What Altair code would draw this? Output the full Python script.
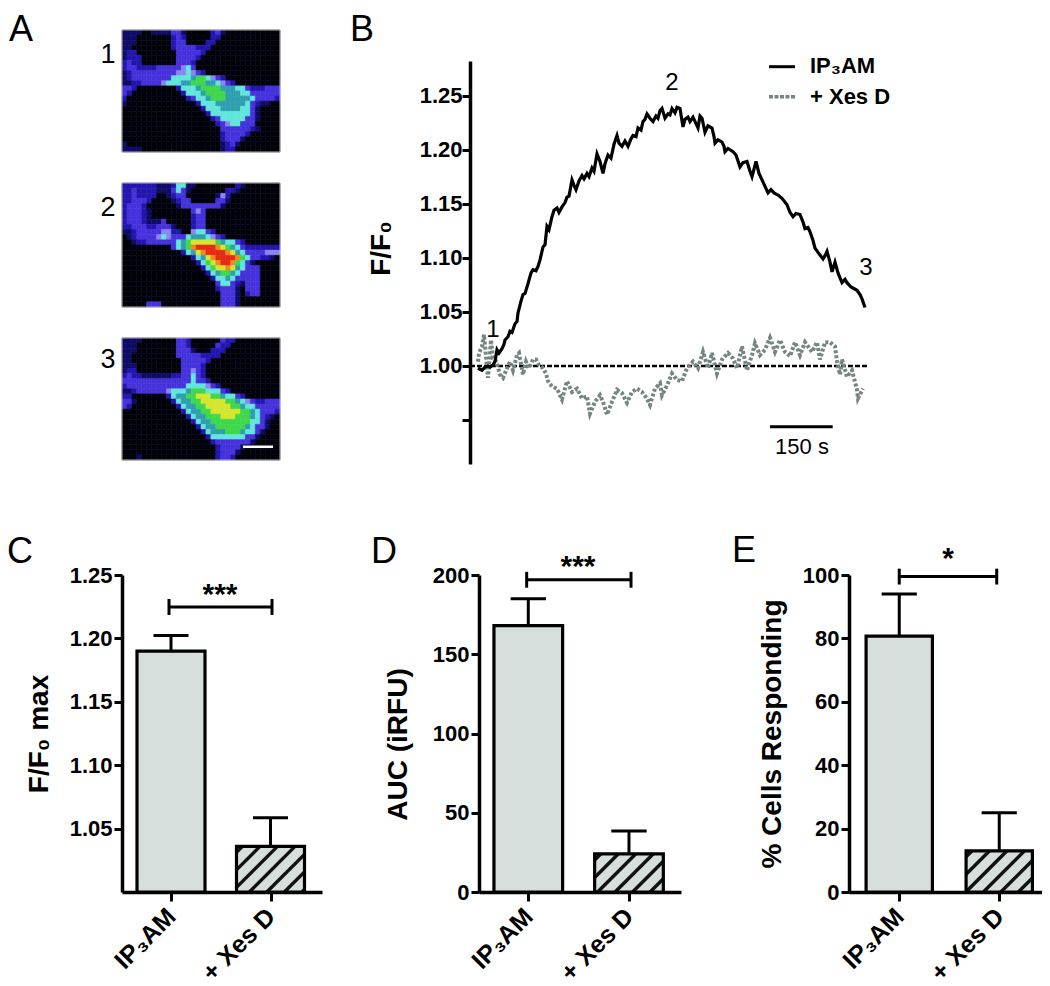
import altair as alt
import pandas as pd

FONT = "Liberation Sans"

IMG1 = [
"11110011113310000023100000000000",
"11100000002320000022000000000000",
"11100000002330000220000000000000",
"11000000002333322200000000000000",
"12200000000333332000000000000000",
"12220000000333320000000000000000",
"23220000000333200000000000000000",
"23322223333345300000000000000000",
"12333333333445432000000000000000",
"12333333335555677543200000000000",
"11223333455566777665432000000000",
"33200000000255567777666553222333",
"32000000000025556777766655333333",
"20000000000002355677766666533332",
"10000000000000025556666665321100",
"00000000000000002555666655310000",
"00000000000000000255555555310000",
"00000000000000000023555553310000",
"00000000000000000002345533300000",
"00000000000000000000333333210000",
"00000000000000000000233332000000",
"00000000000000000000233310000000",
"10000000000000000000123100000000",
"11110000000000000000122000000000",
]
IMG2 = [
"22222221112551100000000210000000",
"22322221113531000000022100000000",
"22322220012330000001420000000000",
"22333200001233000003310000000000",
"23332000000133333333100000000000",
"23332100000000343000000000000000",
"23332100000000233000000000000000",
"23332111300000233000000000000000",
"22333223331000233000000000000000",
"11233333442200455320000000000000",
"01233334543335666543200000000000",
"00122333333567888887655320000000",
"000000000035679aaaa9876532222222",
"00000000000025689aaaa98653333444",
"0000000000000025689aaaa975332210",
"00000000000000025789aa9753100000",
"00000000000000002578898653330000",
"00000000000000000256776533330000",
"00000000000000000025565333330000",
"00000000000000000003553213330000",
"00000000000000000002333103330000",
"00000000000000000000333102330000",
"00000000000000000000333100000000",
"00000333000000000000333100000000",
]
IMG3 = [
"11110000000332000000322000000000",
"11100000000332000003220000000000",
"11100000000333100022200000000000",
"11000000000333332222000000000000",
"11000000000033333200000000000000",
"11100000000033332000000000000000",
"12200000000033432000000000000000",
"23221111112233532000000000000000",
"33333333333333533200000000000000",
"23333333333335555432000000000000",
"11233333345556777555320000000000",
"22000000025667788877655320000000",
"33100000002566778888877654322333",
"32000000000256677888887765533333",
"00000000000025667788888877653332",
"00000000000002566777888777653210",
"00000000000000256677777777553100",
"00000000000000025667777776533100",
"00000000000000002566677765531000",
"00000000000000000255555553310000",
"00000000000000000023333333100000",
"00000000000000000002333310000000",
"00000000000000000002333100000000",
"00010000000000000002332000000000",
]
LEVELS = list("0123456789a")
LEVEL_COLORS = ["#00000c", "#0e0c66", "#2316b0", "#4632dc", "#8a86f0", "#62e6dc",
                "#2f9fb0", "#3fd84c", "#d4e62e", "#f08a1e", "#e62a14"]

# ---------- Panel B: traces, F/F0 against acquisition sample (1 sample = 150/62.7 s)
BLACK_SAMPLE = [0, 2, 4, 7, 10, 12, 15, 17, 19, 21, 24, 26, 27, 30, 32, 34, 37, 39, 40, 43, 45, 47, 50,
                53, 55, 58, 60, 62, 65, 67, 69, 71, 74, 76, 79, 81, 84, 87, 89, 91, 94, 96, 98, 101, 104,
                106, 109, 111, 114, 116, 119, 122, 125, 127, 130, 133, 136, 139, 141, 144, 147, 150, 153,
                155, 158, 160, 163, 165, 167, 169, 172, 175, 178, 180, 182, 184, 187, 190, 192, 194, 197,
                199, 202, 205, 207, 210, 212, 215, 218, 220, 222, 224, 227, 230, 234, 236, 237, 240, 244,
                246, 247, 250, 255, 258, 262, 265, 269, 272, 274, 276, 278, 281, 284, 287, 290, 293, 296,
                300, 304, 309, 312, 315, 318, 322, 325, 327, 330, 332, 335, 337, 340, 345, 347, 349, 352,
                354, 357, 360, 364, 367, 369, 373, 379, 382, 384, 387]
BLACK_F = [0.998, 0.997, 0.996, 0.999, 1.000, 0.999, 1.001, 1.004, 1.015, 1.012, 1.016, 1.020, 1.024,
           1.027, 1.032, 1.031, 1.039, 1.041, 1.049, 1.060, 1.066, 1.067, 1.076, 1.086, 1.089, 1.088,
           1.092, 1.098, 1.110, 1.112, 1.129, 1.126, 1.138, 1.144, 1.146, 1.142, 1.147, 1.151, 1.156,
           1.157, 1.172, 1.167, 1.163, 1.171, 1.176, 1.173, 1.178, 1.175, 1.183, 1.180, 1.196, 1.189,
           1.178, 1.187, 1.195, 1.192, 1.205, 1.213, 1.206, 1.203, 1.208, 1.203, 1.210, 1.213, 1.212,
           1.220, 1.218, 1.226, 1.228, 1.233, 1.229, 1.226, 1.231, 1.229, 1.236, 1.238, 1.229, 1.233,
           1.232, 1.238, 1.234, 1.239, 1.238, 1.221, 1.228, 1.230, 1.226, 1.230, 1.224, 1.220, 1.231,
           1.229, 1.216, 1.222, 1.220, 1.212, 1.206, 1.209, 1.207, 1.203, 1.198, 1.201, 1.198, 1.195,
           1.184, 1.188, 1.189, 1.180, 1.175, 1.182, 1.189, 1.178, 1.172, 1.166, 1.160, 1.163, 1.160,
           1.158, 1.155, 1.149, 1.142, 1.138, 1.141, 1.140, 1.133, 1.127, 1.128, 1.124, 1.116, 1.109,
           1.105, 1.099, 1.102, 1.106, 1.096, 1.087, 1.096, 1.086, 1.077, 1.080, 1.077, 1.073, 1.070,
           1.066, 1.062, 1.054]
GRAY_SAMPLE = [0, 1, 4, 6, 8, 10, 13, 15, 17, 19, 22, 25, 29, 32, 35, 39, 41, 45, 48, 51, 55, 58, 61, 65,
               68, 70, 74, 79, 84, 89, 94, 99, 104, 109, 112, 117, 122, 125, 129, 134, 139, 144, 149,
               154, 159, 164, 169, 172, 177, 182, 184, 189, 194, 199, 204, 209, 215, 220, 225, 230, 234,
               239, 244, 250, 255, 259, 264, 269, 274, 277, 282, 287, 292, 297, 302, 307, 312, 317, 322,
               327, 334, 339, 342, 347, 352, 357, 359, 362, 364, 369, 374, 379, 380, 385]
GRAY_F = [1.004, 1.012, 1.018, 1.029, 1.009, 0.989, 1.024, 1.007, 1.006, 1.002, 0.992, 0.989, 0.998,
          1.004, 0.996, 1.010, 1.012, 0.992, 1.004, 0.998, 1.006, 1.006, 1.001, 0.998, 0.993, 0.986,
          0.981, 0.979, 0.969, 0.986, 0.976, 0.979, 0.970, 0.972, 0.956, 0.967, 0.973, 0.967, 0.955,
          0.967, 0.978, 0.975, 0.966, 0.976, 0.979, 0.976, 0.970, 0.964, 0.979, 0.984, 0.973, 0.982,
          0.993, 0.987, 0.986, 0.998, 1.004, 0.998, 1.013, 0.998, 1.012, 0.993, 1.006, 1.012, 1.007,
          0.998, 1.018, 0.996, 1.010, 1.021, 1.010, 1.015, 1.026, 1.013, 1.024, 1.013, 1.009, 1.022,
          1.010, 1.022, 1.013, 1.022, 1.006, 1.022, 1.022, 1.018, 1.004, 0.992, 1.006, 0.990, 0.996,
          0.978, 0.970, 0.979]
BASELINE_SAMPLE = [-8, 389]
BASELINE_F = 1.0
B_TICKS = [0.95, 1.00, 1.05, 1.10, 1.15, 1.20, 1.25]

# ---------- Panels C, D, E
CATEGORIES = ["IP\u2083AM", "+ Xes D"]
PANELS = [
    dict(title="F/F\u2080 max", y_dom=[1.0, 1.25], y_ticks=[1.05, 1.10, 1.15, 1.20, 1.25], y_fmt=".2f",
         x_rng=[114, 314], axis_x=114, pos=[0.49, 1.485], half=0.34,
         vals=[1.19, 1.036], tops=[1.2022, 1.0586],
         bracket=[0.47, 1.50], bracket_y=1.2248, cap=0.0063, stars="***", star_x=0.98, star_dy=-3,
         title_pad=16, title_y=None),
    dict(title="AUC (iRFU)", y_dom=[0, 200], y_ticks=[0, 50, 100, 150, 200], y_fmt="d",
         x_rng=[471, 673], axis_x=471, pos=[0.488, 1.485], half=0.34,
         vals=[168, 24], tops=[185, 38.5],
         bracket=[0.472, 1.505], bracket_y=197, cap=5, stars="***", star_x=0.98, star_dy=-4,
         title_pad=20, title_y=736),
    dict(title="% Cells Responding", y_dom=[0, 100], y_ticks=[0, 20, 40, 60, 80, 100], y_fmt="d",
         x_rng=[841, 1042], axis_x=841, pos=[0.50, 1.495], half=0.33,
         vals=[80.7, 13], tops=[94, 25],
         bracket=[0.50, 1.47], bracket_y=99.5, cap=2.5, stars="*", star_x=0.985, star_dy=-9,
         title_pad=16, title_y=None),
]
BAR_FILL = "#d6dfdc"
PLOT_Y = [884, 567]

# ---------- Free text, page positions
LETTERS = [("A", 21, 30), ("B", 362, 30), ("C", 20, 552), ("D", 384, 552), ("E", 744, 551)]
NUMBERS_A = [("1", 108, 55), ("2", 108, 208), ("3", 108, 360)]
NUMBERS_B = [("1", 493, 330), ("2", 672, 83), ("3", 866, 268)]
LEGEND = [("IP\u2083AM", 810, 66), ("+ Xes D", 810, 97)]
SCALE_LABEL = [("150 s", 802, 447)]

W, H = 1034, 978


def qx(dom, rng, axis=None, field="x"):
    return alt.X(f"{field}:Q", scale=alt.Scale(domain=dom, range=rng, nice=False, zero=False), axis=axis)


def qy(dom, rng, axis=None, field="y"):
    return alt.Y(f"{field}:Q", scale=alt.Scale(domain=dom, range=rng, nice=False, zero=False), axis=axis)


PIX_X = ([0, W], [0, W])
PIX_Y = ([0, H], [0, H])


def text_layer(rows, size, weight="normal", align="center"):
    df = pd.DataFrame([{"t": t, "x": x - 8, "y": y - 8} for t, x, y in rows])
    return alt.Chart(df).mark_text(font=FONT, fontSize=size, fontWeight=weight, color="black",
                                   align=align, baseline="middle").encode(
        x=qx(*PIX_X), y=qy(*PIX_Y), text="t:N")


def rule_layer(rows, xd, xr, yd, yr, color="black", width=3.0, dash=None, cap="butt"):
    df = pd.DataFrame(rows, columns=["x", "x2", "y", "y2"])
    kw = dict(color=color, strokeWidth=width, strokeCap=cap)
    if dash:
        kw["strokeDash"] = dash
    return alt.Chart(df).mark_rule(**kw).encode(
        x=qx(xd, xr), x2="x2:Q", y=qy(yd, yr), y2="y2:Q")


layers = []

# Panel A
IMG_X = [114, 272]
for rows, y_rng in zip([IMG1, IMG2, IMG3], [[22, 144], [175, 299], [330, 452]]):
    cells = []
    for r, row in enumerate(rows):
        for c, ch in enumerate(row.ljust(32, "0")[:32]):
            cells.append({"x": c, "x2": c + 1, "y": r, "y2": r + 1,
                          "col": LEVEL_COLORS[LEVELS.index(ch)]})
    df = pd.DataFrame(cells)
    layers.append(alt.Chart(df).mark_rect(strokeWidth=0.6).encode(
        x=qx([0, 32], IMG_X), x2="x2:Q", y=qy([0, 24], y_rng), y2="y2:Q",
        fill=alt.Fill("col:N", scale=None), stroke=alt.Stroke("col:N", scale=None)))
    frame = pd.DataFrame([{"x": 0, "x2": 32, "y": 0, "y2": 24}])
    layers.append(alt.Chart(frame).mark_rect(fillOpacity=0, stroke="#b4b4b4", strokeWidth=1).encode(
        x=qx([0, 32], IMG_X), x2="x2:Q", y=qy([0, 24], y_rng), y2="y2:Q"))
layers.append(rule_layer([(24.5, 30.6, 21.4, 21.4)], [0, 32], IMG_X, [0, 24], [330, 452],
                         color="white", width=2.5))
layers.append(text_layer(NUMBERS_A, 27))

# Panel B
B_X_DOM = [-8, 392]
B_X_RNG = [462, 862]
B_Y_DOM = [0.9094, 1.2819]
B_Y_RNG = [456, 53]
b_axis = alt.Axis(title="F/F\u2080", orient="left", offset=-462, values=B_TICKS,
                  labelExpr="datum.value < 0.96 ? '' : format(datum.value, '.2f')",
                  grid=False, domainWidth=3.5, domainColor="black", tickColor="black", tickWidth=3,
                  tickSize=8, labelFont=FONT, labelFontWeight="bold", labelFontSize=22, labelColor="black",
                  labelPadding=0, titleFont=FONT, titleFontWeight="bold", titleFontSize=28,
                  titleColor="black", titlePadding=24, titleY=240, labelOverlap=False)
b_x_enc = lambda: qx(B_X_DOM, B_X_RNG, field="s")
base_df = pd.DataFrame({"s": BASELINE_SAMPLE, "y": [BASELINE_F] * 2})
layers.append(alt.Chart(base_df).mark_line(color="black", strokeWidth=2.5, strokeDash=[5, 2]).encode(
    x=b_x_enc(), y=qy(B_Y_DOM, B_Y_RNG, axis=b_axis)))
gray_df = pd.DataFrame({"s": GRAY_SAMPLE, "y": GRAY_F})
layers.append(alt.Chart(gray_df).mark_line(color="#748582", strokeWidth=4, strokeDash=[3, 2],
                                           interpolate="linear").encode(
    x=b_x_enc(), y=qy(B_Y_DOM, B_Y_RNG)))
black_df = pd.DataFrame({"s": BLACK_SAMPLE, "y": BLACK_F})
layers.append(alt.Chart(black_df).mark_line(color="black", strokeWidth=3.2).encode(
    x=b_x_enc(), y=qy(B_Y_DOM, B_Y_RNG)))
layers.append(text_layer(NUMBERS_B, 24))
layers.append(text_layer(LEGEND, 22, weight="bold", align="left"))
layers.append(text_layer(SCALE_LABEL, 22))
layers.append(rule_layer([(761, 787, 58.7, 58.7)], *PIX_X, *PIX_Y, width=3))
layers.append(rule_layer([(761, 787, 88.7, 88.7)], *PIX_X, *PIX_Y, color="#748582", width=3.5, dash=[4, 1.5]))
layers.append(rule_layer([(762, 824.7, 418.7, 418.7)], *PIX_X, *PIX_Y, width=3))

# Panels C, D, E
for p in PANELS:
    xd = [0, 2]
    yd = p["y_dom"]
    xr = p["x_rng"]
    k_x = (xr[1] - xr[0]) / 2
    k_y = (PLOT_Y[0] - PLOT_Y[1]) / (yd[1] - yd[0])
    base = yd[0]
    axis_kw = dict(titleY=p["title_y"]) if p["title_y"] else {}
    y_axis = alt.Axis(title=p["title"], orient="left", offset=-p["axis_x"], values=p["y_ticks"],
                      format=p["y_fmt"], grid=False, domainWidth=3.5, domainColor="black",
                      tickColor="black", tickWidth=3, tickSize=8, labelFont=FONT, labelFontWeight="bold",
                      labelFontSize=22, labelColor="black", labelPadding=2, titleFont=FONT,
                      titleFontWeight="bold", titleFontSize=28, titleColor="black",
                      titlePadding=p["title_pad"], labelOverlap=False, **axis_kw)
    x_axis = alt.Axis(title=None, orient="bottom", offset=-(H - PLOT_Y[0]), values=p["pos"],
                      labelExpr=f"datum.value < 1 ? '{CATEGORIES[0]}' : '{CATEGORIES[1]}'",
                      grid=False, domainWidth=3.5, domainColor="black", tickColor="black", tickWidth=3,
                      tickSize=9, labelFont=FONT, labelFontWeight="bold", labelFontSize=25,
                      labelColor="black", labelAngle=-45, labelAlign="right", labelBaseline="middle",
                      labelPadding=11, labelOverlap=False, labelFlush=False, labelBound=False)
    bars = pd.DataFrame({"x": [c - p["half"] for c in p["pos"]], "x2": [c + p["half"] for c in p["pos"]],
                         "y": p["vals"], "y2": [base, base]})
    # fill
    layers.append(alt.Chart(bars).mark_rect(fill=BAR_FILL).encode(
        x=qx(xd, xr, axis=x_axis), x2="x2:Q", y=qy(yd, PLOT_Y, axis=y_axis), y2="y2:Q"))
    # hatching of the second bar: strokes at 45 degrees, clipped to the bar
    bx0, bx1 = bars.x[1] * k_x, bars.x2[1] * k_x
    by1 = (bars.y[1] - base) * k_y
    hatch = []
    c = -by1 + 6
    while c < bx1 - bx0:
        u0, v0 = max(c, 0), max(-c, 0)
        u1 = min(bx1 - bx0, by1 + c)
        v1 = u1 - c
        if u1 > u0:
            hatch.append(((bx0 + u0) / k_x, (bx0 + u1) / k_x, base + v0 / k_y, base + v1 / k_y))
        c += 17.5
    layers.append(rule_layer(hatch, xd, xr, yd, PLOT_Y, color="#111111", width=3.4))
    # outline
    layers.append(alt.Chart(bars).mark_rect(fillOpacity=0, stroke="black", strokeWidth=3.2).encode(
        x=qx(xd, xr), x2="x2:Q", y=qy(yd, PLOT_Y), y2="y2:Q"))
    # error bars
    err = [(c, c, v, t) for c, v, t in zip(p["pos"], p["vals"], p["tops"])]
    err += [(c - 0.175, c + 0.175, t, t) for c, t in zip(p["pos"], p["tops"])]
    layers.append(rule_layer(err, xd, xr, yd, PLOT_Y, width=3))
    # significance bracket
    b0, b1 = p["bracket"]
    by, cp = p["bracket_y"], p["cap"]
    layers.append(rule_layer([(b0, b1, by, by), (b0, b0, by - cp, by + cp), (b1, b1, by - cp, by + cp)],
                             xd, xr, yd, PLOT_Y, width=3))
    star_df = pd.DataFrame([{"t": p["stars"], "x": p["star_x"], "y": by}])
    layers.append(alt.Chart(star_df).mark_text(font=FONT, fontSize=30, fontWeight="bold", color="black",
                                               align="center", baseline="alphabetic", dy=p["star_dy"]).encode(
        x=qx(xd, xr), y=qy(yd, PLOT_Y), text="t:N"))

# Panel letters
layers.append(text_layer(LETTERS, 36))

chart = alt.layer(*layers).resolve_scale(x="independent", y="independent").properties(
    width=W, height=H, padding=0, autosize=alt.AutoSizeParams(type="none"), background="white"
).configure_view(stroke=None)

chart.save("out.html", embed_options={"renderer": "svg", "actions": False})
